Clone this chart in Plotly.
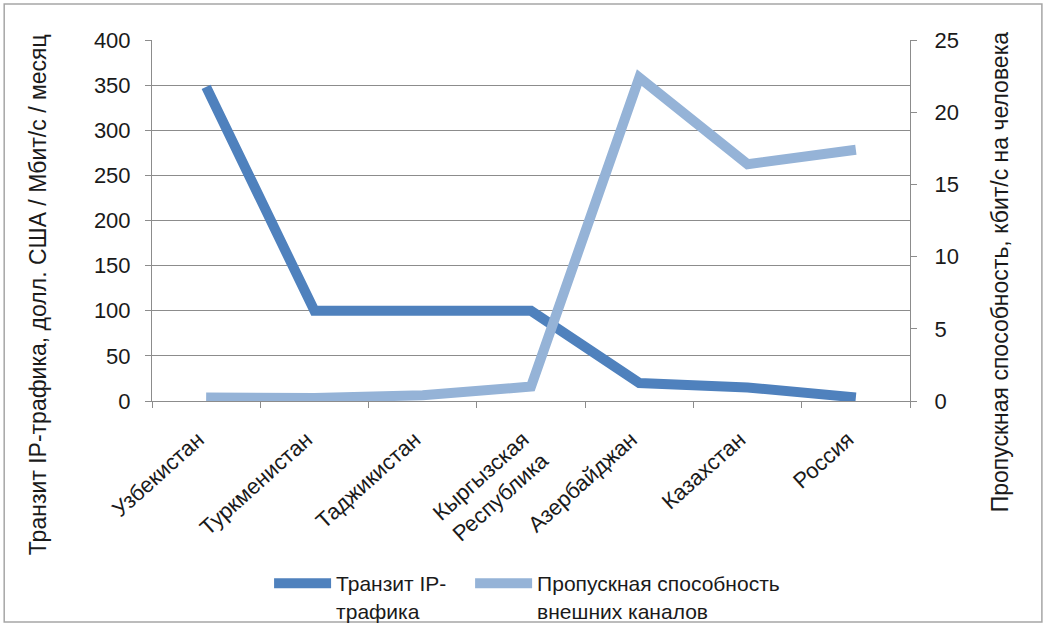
import plotly.graph_objects as go

countries = [
    "Узбекистан",
    "Туркменистан",
    "Таджикистан",
    "Кыргызская<br>Республика",
    "Азербайджан",
    "Казахстан",
    "Россия",
]
ip_transit = [348, 100, 100, 100, 20, 15, 4]
bandwidth = [0.25, 0.2, 0.4, 1.0, 22.4, 16.4, 17.4]

DARK = "#4f81bd"
LIGHT = "#95b3d7"
GRID = "#8c8c8c"
FONT = "Liberation Sans, Arial, sans-serif"

fig = go.Figure()
fig.add_trace(go.Scatter(
    x=countries, y=ip_transit, name="Транзит IP-<br>трафика",
    mode="lines", line=dict(color=DARK, width=10), legend="legend",
))
fig.add_trace(go.Scatter(
    x=countries, y=bandwidth, name="Пропускная способность<br>внешних каналов",
    mode="lines", line=dict(color=LIGHT, width=10), yaxis="y2", legend="legend2",
))

# frame around the whole chart
fig.add_shape(type="rect", xref="paper", yref="paper",
              x0=-0.195, x1=1.174, y0=-0.612, y1=1.0997,
              line=dict(color="#a6a6a6", width=1.5))

# axis titles centred on the whole chart height, as in the original
fig.add_annotation(text="Транзит IP-трафика, долл. США / Мбит/с / месяц",
                   xref="paper", yref="paper", x=-0.150, y=0.294,
                   xanchor="center", yanchor="middle",
                   textangle=-90, showarrow=False, font=dict(size=23))
fig.add_annotation(text="Пропускная способность, кбит/с на человека",
                   xref="paper", yref="paper", x=1.119, y=0.357,
                   xanchor="center", yanchor="middle",
                   textangle=-90, showarrow=False, font=dict(size=23))

legend_style = dict(orientation="h", xanchor="left", xref="container",
                    yref="container", y=0.102, yanchor="top", valign="top",
                    font=dict(size=21), bgcolor="rgba(0,0,0,0)", itemwidth=57)

fig.update_layout(
    width=1047, height=627,
    margin=dict(l=152, r=137, t=40, b=226, autoexpand=False),
    paper_bgcolor="white", plot_bgcolor="white",
    font=dict(family=FONT, color="#1a1a1a"),
    showlegend=True,
    legend=dict(x=0.257, **legend_style),
    legend2=dict(x=0.449, **legend_style),
    xaxis=dict(
        type="category", range=[-0.5, 6.5], tickangle=-42, tickfont=dict(size=22),
        showgrid=False, showline=True, linecolor=GRID, automargin=False,
        ticks="outside", tickson="boundaries", ticklen=6, tickcolor=GRID,
        ticklabelstandoff=16, ticklabelshift=-8,
    ),
    yaxis=dict(
        range=[0, 400], dtick=50, tickfont=dict(size=22), automargin=False,
        showgrid=True, gridcolor=GRID, gridwidth=1.2,
        showline=True, linecolor=GRID, ticks="outside", ticklen=6, tickcolor=GRID,
        zeroline=False, ticklabelstandoff=10,
    ),
    yaxis2=dict(
        range=[0, 25], dtick=5, overlaying="y", side="right", automargin=False,
        tickfont=dict(size=22), showgrid=False,
        showline=True, linecolor=GRID, ticks="outside", ticklen=6, tickcolor=GRID,
        zeroline=False, ticklabelstandoff=13,
    ),
)

# the page body has an 8px default margin; drop it so the chart fills the window
fig.write_html("out.html", config={"displayModeBar": False},
               post_script="document.body.style.margin='0px';")
